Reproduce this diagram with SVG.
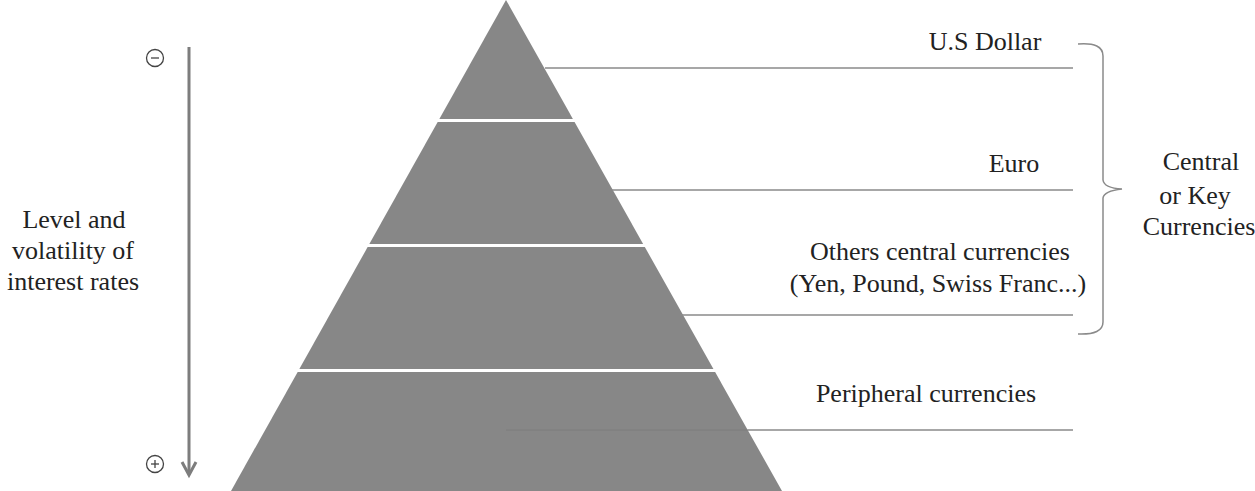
<svg xmlns="http://www.w3.org/2000/svg" width="1255" height="491" viewBox="0 0 1255 491">
<style>
text{font-family:"Liberation Serif","Times New Roman",serif;font-size:26px;fill:#222;text-anchor:middle}
.lead{stroke:#8a8a8a;stroke-width:1.5;fill:none}
.sep{stroke:#fff;stroke-width:3}
.sym{stroke:#444;stroke-width:1.3;fill:none}
</style>
<rect width="1255" height="491" fill="#fff"/>
<g id="pyramid">
<polygon points="506,0 231,491 782,491" fill="#878787"/>
<line class="sep" x1="420" y1="120.5" x2="592" y2="120.5"/>
<line class="sep" x1="350" y1="245.5" x2="662" y2="245.5"/>
<line class="sep" x1="280" y1="370.5" x2="732" y2="370.5"/>
</g>
<g id="connectors">
<line class="lead" x1="545" y1="68" x2="1073" y2="68"/>
<line class="lead" x1="612" y1="190" x2="1073" y2="190"/>
<line class="lead" x1="680" y1="315" x2="1073" y2="315"/>
<line stroke="#7d7d7d" stroke-width="1" x1="506" y1="430" x2="748" y2="430"/>
<line class="lead" x1="748" y1="430" x2="1073" y2="430"/>
<path class="lead" d="M1078,44 Q1103,42 1103,56 L1103,180 Q1104,188 1122,189 Q1104,191 1103,198 L1103,322 Q1103,335 1078,334"/>
<line x1="189" y1="47" x2="189" y2="474" stroke="#7d7d7d" stroke-width="3"/>
<polyline points="182,462 189,475 196,462" fill="none" stroke="#7d7d7d" stroke-width="3"/>
</g>
<g id="usd"><text x="985" y="50">U.S Dollar</text></g>
<g id="euro"><text x="1014" y="172">Euro</text></g>
<g id="others"><text x="940" y="260">Others central currencies</text><text x="938" y="292">(Yen, Pound, Swiss Franc...)</text></g>
<g id="peripheral"><text x="926" y="402">Peripheral currencies</text></g>
<g id="key"><text x="1201" y="170">Central</text><text x="1195" y="204">or Key</text><text x="1199" y="235">Currencies</text></g>
<g id="axis-label"><text x="74" y="228">Level and</text><text x="73" y="259">volatility of</text><text x="73" y="290">interest rates</text></g>
<g id="minus"><circle class="sym" cx="155" cy="58" r="8.5"/><line class="sym" x1="151" y1="58" x2="159" y2="58"/></g>
<g id="plus"><circle class="sym" cx="155" cy="464" r="8.5"/><line class="sym" x1="151" y1="464" x2="159" y2="464"/><line class="sym" x1="155" y1="460" x2="155" y2="468"/></g>
</svg>
